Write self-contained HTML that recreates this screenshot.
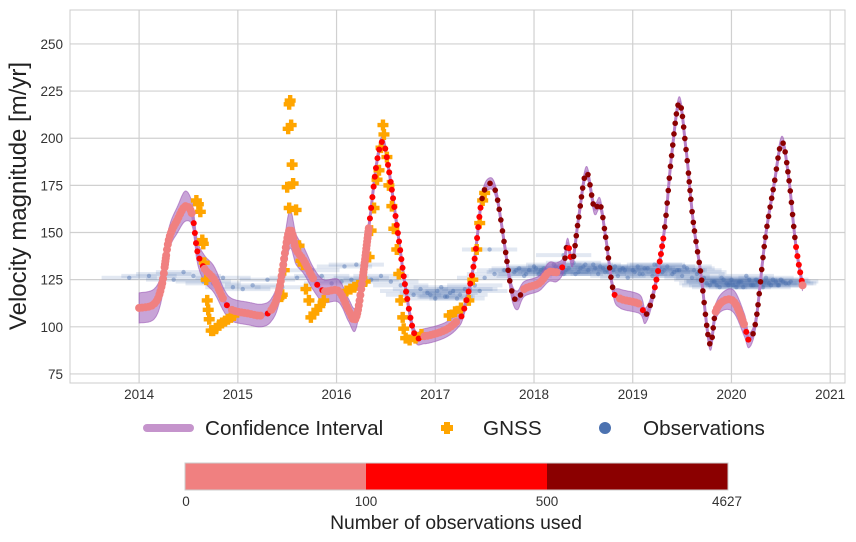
<!DOCTYPE html>
<html><head><meta charset="utf-8"><style>
body{margin:0;background:#fff;font-family:"Liberation Sans",sans-serif;}
svg text{font-family:"Liberation Sans",sans-serif;}
</style></head><body>
<svg id="chart" width="856" height="537" viewBox="0 0 856 537">
<g id="grid"></g>
<g id="obs"></g>
<g id="ci"></g>
<g id="gnss"></g>
<g id="dots"></g>
<rect x="70" y="10" width="775" height="373" fill="none" stroke="#ccc" stroke-width="1"/>
<g id="axes"></g>
<text x="0" y="0" transform="translate(26,196) rotate(-90)" text-anchor="middle" font-size="24" fill="#222">Velocity magnitude [m/yr]</text>
<g>
 <g>
  <line x1="147" y1="428" x2="190" y2="428" stroke="#c594cc" stroke-width="8" stroke-linecap="round"/>
  <text x="205" y="435" font-size="20.7" fill="#222">Confidence Interval</text></g>
 <g>
  <path d="M444 422h6v3h3v6h-3v3h-6v-3h-3v-6h3z" fill="#ffa500"/>
  <text x="483" y="435" font-size="20.7" fill="#222">GNSS</text></g>
 <g>
  <circle cx="605" cy="428" r="6" fill="#4c72b0"/>
  <text x="643" y="435" font-size="20.7" fill="#222">Observations</text></g>
</g>
<g>
 <rect x="185" y="463" width="181" height="27" fill="#f08080"/>
 <rect x="366" y="463" width="181" height="27" fill="#ff0000"/>
 <rect x="547" y="463" width="181" height="27" fill="#8b0000"/>
 <rect x="185" y="463" width="543" height="27" fill="none" stroke="#ccc"/>
 <g font-size="13.5" fill="#333" text-anchor="middle">
  <text x="186" y="506">0</text><text x="366" y="506">100</text><text x="547" y="506">500</text><text x="727" y="506">4627</text></g>
 <text x="456" y="529" font-size="19.3" fill="#222" text-anchor="middle">Number of observations used</text>
</g>
</svg>
<script>
const xTicks=[2014,2015,2016,2017,2018,2019,2020,2021];
const yTicks=[75,100,125,150,175,200,225,250];
const keyYears=[2014.0,2014.15,2014.23,2014.30,2014.39,2014.47,2014.54,2014.59,2014.66,2014.76,2014.86,2014.94,2015.11,2015.24,2015.34,2015.42,2015.52,2015.59,2015.67,2015.77,2015.87,2016.02,2016.12,2016.19,2016.25,2016.33,2016.41,2016.47,2016.53,2016.61,2016.70,2016.79,2016.89,2017.09,2017.22,2017.29,2017.39,2017.47,2017.55,2017.62,2017.70,2017.77,2017.83,2017.90,2018.05,2018.15,2018.23,2018.30,2018.34,2018.39,2018.45,2018.53,2018.61,2018.67,2018.73,2018.80,2018.87,2019.07,2019.13,2019.22,2019.32,2019.39,2019.47,2019.54,2019.61,2019.69,2019.78,2019.84,2019.93,2020.03,2020.13,2020.18,2020.25,2020.34,2020.43,2020.51,2020.58,2020.65,2020.72];
const keyValues=[110,112,122,146,157,164,159,140,131,125,114,109,107,106,109,120,151,141,135,125,119,119,109,104,120,154,188,198,183,154,120,96,95,98,103,109,133,167,176,170,144,120,114,120,123,129,129,133,144,135,157,182,163,165,146,120,115,112,106,120,151,189,219,194,157,128,91,108,114,113,101,93,104,146,175,198,179,144,122];
const keyCI=[8,8,7,6,7,8,6,6,7,7,6,6,6,6,6,7,10,8,7,6,6,6,6,6,4,3,3,3,3,3,3,3,4,4,4,3,3,3,3,3,3,4,5,4,4,5,5,4,3,3,3,3,3,3,3,3,5,5,4,3,3,3,3,3,3,3,3,4,5,6,6,4,3,3,3,3,3,3,3];
const keyClass=[0,0,0,0,0,0,1,1,0,0,1,0,0,1,0,0,0,0,0,1,0,0,0,0,0,1,1,1,1,1,1,1,0,0,1,1,1,2,2,2,2,2,2,0,0,0,1,2,1,2,2,2,2,2,2,1,0,1,2,1,2,2,2,2,2,2,2,0,0,0,1,2,2,2,2,2,2,1,0];
const gnssYears=[2014.58,2014.60,2014.62,2014.64,2014.65,2014.66,2014.68,2014.69,2014.70,2014.71,2014.73,2014.75,2014.78,2014.81,2014.84,2014.87,2014.90,2014.93,2014.96,2015.52,2015.53,2015.51,2015.54,2015.55,2015.56,2015.50,2015.52,2015.59,2015.47,2015.45,2015.44,2015.62,2015.64,2015.66,2015.69,2015.72,2015.74,2015.77,2015.80,2015.83,2015.87,2016.10,2016.14,2016.18,2016.22,2016.26,2016.29,2016.33,2016.35,2016.38,2016.41,2016.43,2016.45,2016.47,2016.48,2016.51,2016.53,2016.56,2016.58,2016.61,2016.63,2016.65,2016.67,2016.68,2016.70,2016.74,2016.80,2016.86,2017.14,2017.20,2017.26,2017.34,2017.38,2017.42,2017.45,2017.48,2017.50];
const gnssValues=[167,165,161,146,144,134,125,114,109,104,98,98,99,101,102,103,104,105,106,218,220,205,207,186,176,174,163,162,130,117,116,143,135,133,120,114,105,107,109,111,114,119,120,121,122,123,124,137,151,163,178,183,195,207,202,190,175,164,152,141,128,114,105,99,94,93,94,96,106,108,110,114,125,141,155,167,171];
const obsYears=[2013.9,2014.1,2014.25,2014.35,2014.45,2014.55,2014.65,2014.75,2014.85,2014.95,2015.05,2015.15,2015.3,2015.45,2015.6,2015.75,2015.85,2015.95,2016.05,2016.15,2016.25,2016.35,2016.45,2016.55,2016.65,2016.72,2016.78,2016.85,2016.92,2017.0,2017.06,2017.12,2017.18,2017.25,2017.3,2017.4,2017.5,2017.6,2017.7,2017.8,2017.85,2017.9,2017.95,2018.0,2018.05,2018.1,2018.15,2018.2,2018.25,2018.3,2018.35,2018.4,2018.45,2018.5,2018.55,2018.6,2018.65,2018.7,2018.75,2018.8,2018.85,2018.9,2018.95,2019.0,2019.05,2019.1,2019.15,2019.2,2019.25,2019.3,2019.35,2019.4,2019.45,2019.5,2019.55,2019.6,2019.65,2019.7,2019.75,2019.8,2019.85,2019.9,2019.95,2020.0,2020.05,2020.1,2020.15,2020.2,2020.25,2020.3,2020.35,2020.4,2020.45,2020.5,2020.55,2020.6,2016.08,2016.2,2017.55,2018.3,
2017.82,2017.92,2018.02,2018.12,2018.22,2018.32,2018.42,2018.52,2018.62,2018.72,2018.82,2018.92,2019.02,2019.12,2019.22,2019.32,2019.42,2019.52,2019.62,2019.72,2019.78,2019.82,2019.88,2019.92,2019.98,2020.02,2020.08,2020.12,2020.18,2020.22,2020.28,2020.32,2020.38,2020.42,2020.48,2020.52,2020.58,2016.95,2017.02,2017.1,2017.15,2017.22,2017.35,2017.45,
2018.07,2018.27,2018.47,2018.67,2018.87,2019.07,2019.27,2019.47,2019.67,2019.83,2019.97,2020.07,2020.27,2020.47];
const obsValues=[126,127,128,125,129,127,124,123,126,121,120,122,125,121,126,130,127,123,124,125,126,125,127,124,122,119,117,120,118,115,121,116,119,117,120,122,126,128,130,129,131,127,130,132,128,131,129,133,130,128,131,134,129,132,130,133,128,131,129,130,127,131,126,130,132,128,131,127,133,129,132,128,130,127,131,126,128,125,123,124,122,126,123,125,121,124,127,122,125,123,126,122,124,125,123,124,132,133,141,138,
130,128,131,129,132,130,128,133,131,129,132,130,129,131,133,130,129,132,130,126,122,124,121,125,123,122,124,121,125,122,124,121,123,125,122,124,123,117,119,116,118,115,120,119,
130,129,131,132,130,128,131,130,129,124,122,123,124,122];
const X0=70,X1=845,YB=383,YT=10,xMin=2013.3,xMax=2021.15,vMin=70.2,vMax=268;
const sx=v=>X0+(v-xMin)/(xMax-xMin)*(X1-X0);
const sy=v=>YB-(v-vMin)/(vMax-vMin)*(YB-YT);
const NS='http://www.w3.org/2000/svg';
function mk(tag,parent,attrs){const e=document.createElementNS(NS,tag);for(const k in attrs)e.setAttribute(k,attrs[k]);document.getElementById(parent).appendChild(e);return e;}
xTicks.forEach(t=>{const l=mk('line','grid',{x1:sx(t),x2:sx(t),y1:YT,y2:YB,stroke:'#d0d0d0','stroke-width':1.2});


const tx=mk('text','axes',{x:sx(t),y:399,'font-size':13.5,fill:'#333','text-anchor':'middle'});tx.textContent=t;

});
yTicks.forEach(t=>{const l=mk('line','grid',{x1:X0,x2:X1,y1:sy(t),y2:sy(t),stroke:'#d0d0d0','stroke-width':1.2});


const tx=mk('text','axes',{x:63,y:sy(t)+5,'font-size':13.5,fill:'#333','text-anchor':'end'});tx.textContent=t;

});
// observations
obsYears.forEach((y,i)=>{const l=mk('line','obs',{x1:sx(y-0.28),x2:sx(y+0.28),y1:sy(obsValues[i]),y2:sy(obsValues[i]),stroke:'#4c72b0','stroke-opacity':0.16,'stroke-width':4});


const c=mk('circle','obs',{cx:sx(y),cy:sy(obsValues[i]),r:2.2,fill:'#4c72b0','fill-opacity':0.45});

});
// spline
function cr(arr,i,t){const p0=arr[Math.max(i-1,0)],p1=arr[i],p2=arr[i+1],p3=arr[Math.min(i+2,arr.length-1)];
return 0.5*((2*p1)+(-p0+p2)*t+(2*p0-5*p1+4*p2-p3)*t*t+(-p0+3*p1-3*p2+p3)*t*t*t);}
const samp=[];
for(let i=0;i<keyYears.length-1;i++){const n=Math.max(4,Math.round((keyYears[i+1]-keyYears[i])/0.004));
for(let k=0;k<n;k++){const t=k/n;samp.push({x:cr(keyYears,i,t),v:cr(keyValues,i,t),c:cr(keyCI,i,t),cl:keyClass[i]});}}
const L=keyYears.length-1;samp.push({x:keyYears[L],v:keyValues[L],c:keyCI[L],cl:keyClass[L]});
let up='',dn='';samp.forEach(s=>{up+=(up?'L':'M')+sx(s.x).toFixed(1)+' '+sy(s.v+s.c).toFixed(1);});
for(let i=samp.length-1;i>=0;i--){const s=samp[i];dn+='L'+sx(s.x).toFixed(1)+' '+sy(s.v-s.c).toFixed(1);}
const band=mk('path','ci',{d:up+dn+'Z',fill:'#9b59b6','fill-opacity':0.55,stroke:'#9b59b6','stroke-opacity':0.6,'stroke-width':1});


let ln='';samp.forEach(s=>{ln+=(ln?'L':'M')+sx(s.x).toFixed(1)+' '+sy(s.v).toFixed(1);});
const cl=mk('path','ci',{d:ln,fill:'none',stroke:'#b77fc7','stroke-width':3});


// gnss
gnssYears.forEach((y,i)=>{const X=sx(y),Y=sy(gnssValues[i]);
const p=mk('path','gnss',{d:`M${X-2.2} ${Y-5.5}h4.4v3.3h3.3v4.4h-3.3v3.3h-4.4v-3.3h-3.3v-4.4h3.3z`,fill:'#ffa500'});

});
// dots (arc-length spacing)
const cols=['#f08080','#ff0000','#8b0000'],rad=[4,3,2.8],gap=[3,7.5,8.5];
let px=null,py=null,acc=1e9;samp.forEach(s=>{const X=sx(s.x),Y=sy(s.v);
if(px!==null)acc+=Math.hypot(X-px,Y-py);px=X;py=Y;
if(acc<gap[s.cl])return;acc=0;
const d=mk('circle','dots',{cx:X,cy:Y,r:rad[s.cl],fill:cols[s.cl]});

});
</script>
</body></html>
